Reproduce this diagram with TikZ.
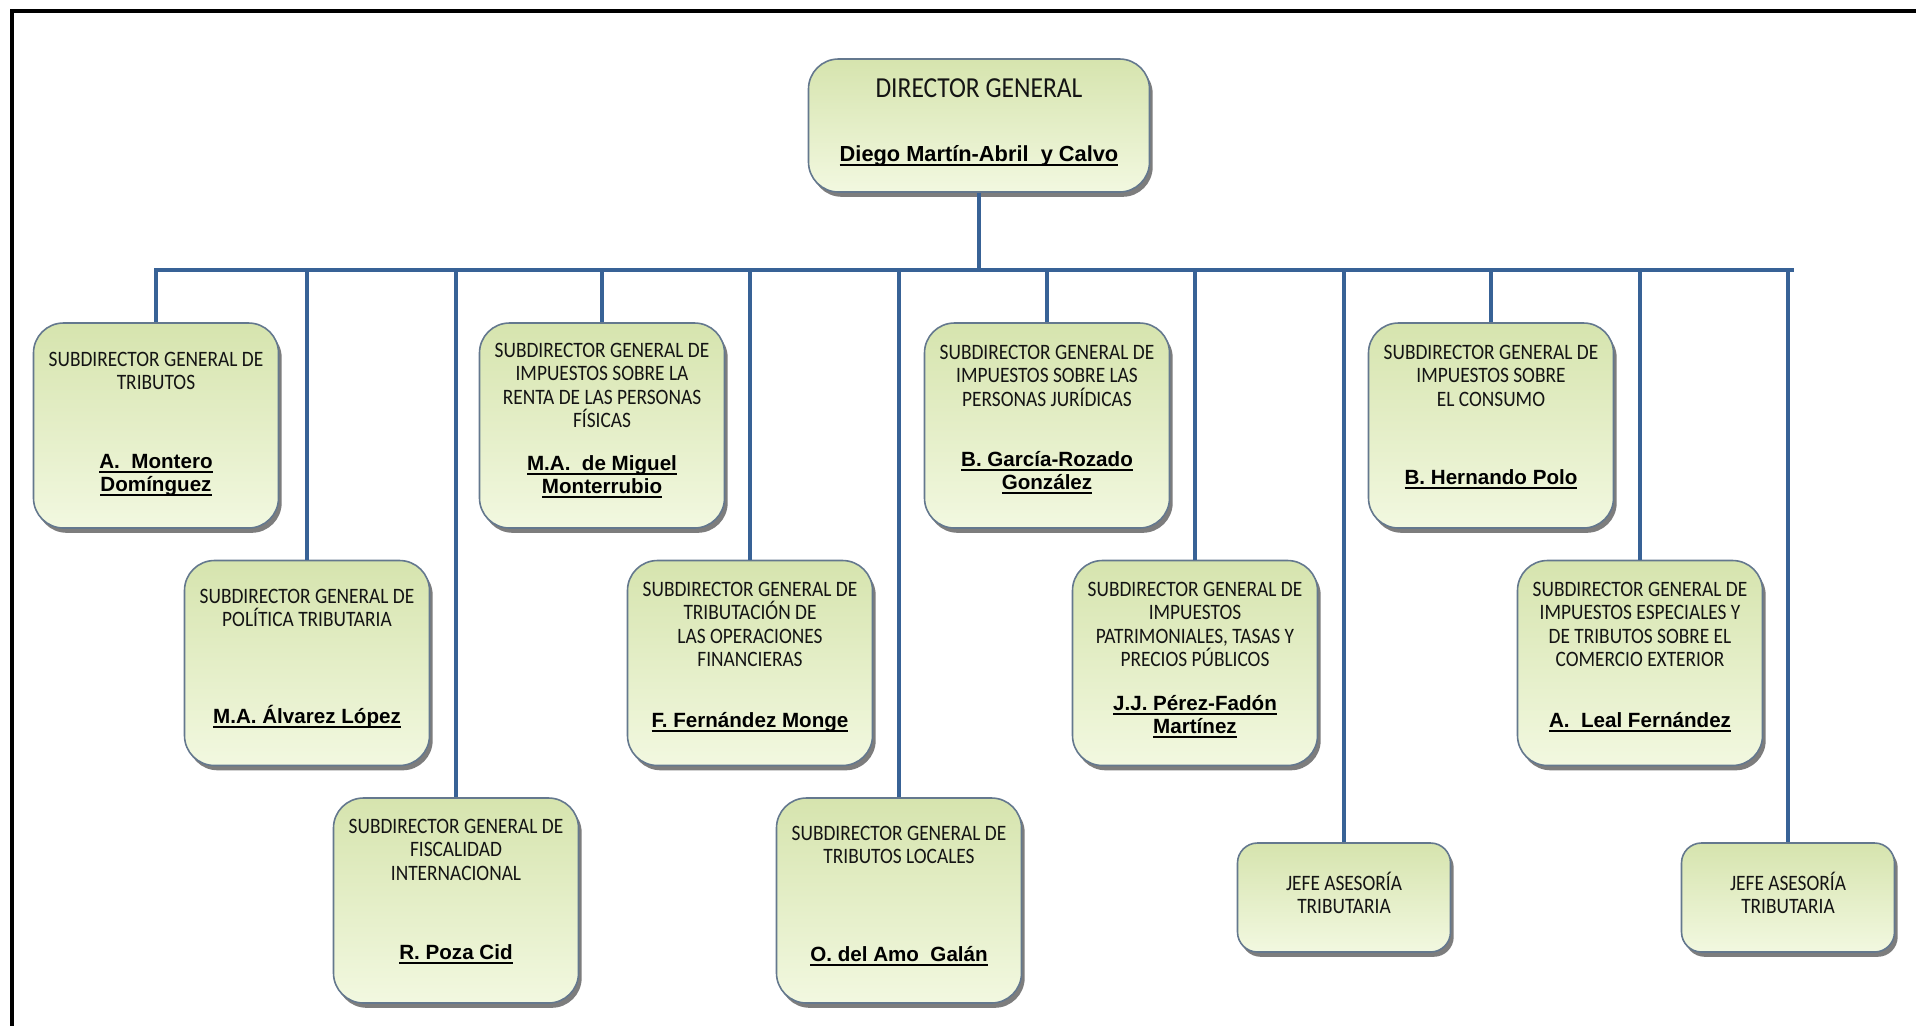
\documentclass[tikz,border=0pt]{standalone}
\usepackage{fontspec}
\setmainfont{Liberation Sans}
\newfontfamily\titlefont[FakeStretch=0.88]{Carlito}
\usetikzlibrary{shadows}

\definecolor{boxtop}{RGB}{214,228,174}
\definecolor{boxbot}{RGB}{242,248,224}
\definecolor{boxedge}{RGB}{100,120,142}
\definecolor{linkblue}{RGB}{56,98,150}
\definecolor{textdark}{RGB}{20,20,20}

% bold name with a heavy underline
\newcommand\ulname[1]{\setbox0=\hbox{#1}\rlap{\raisebox{-2.6pt}{\rule{\wd0}{1pt}}}\box0}

% multi-line text nodes are anchored at the baseline of their last line
\tikzset{
  orgbox/.style={draw=boxedge, line width=0.8pt, rounded corners=15pt,
    top color=boxtop, bottom color=boxbot, inner sep=0pt,
    minimum width=122.5pt, minimum height=102.5pt,
    drop shadow={shadow xshift=1.6pt, shadow yshift=-2.4pt, opacity=0.6, fill=black!85}},
  smallbox/.style={orgbox, rounded corners=10pt, minimum width=106.5pt, minimum height=54.5pt},
  title/.style={font=\titlefont\fontsize{11}{11.75}\selectfont, align=center,
    anchor=base, inner sep=0pt, text=textdark},
  who/.style={font=\bfseries\fontsize{10.3}{11.5}\selectfont, align=center,
    anchor=base, inner sep=0pt, text=black},
  link/.style={draw=linkblue, line width=2pt},
}

\begin{document}
\begin{tikzpicture}[x=0.5pt, y=-0.5pt]
\useasboundingbox (0,0) rectangle (1916,1025);

% page frame
\draw[line width=1.6pt, line cap=rect] (12,1025) -- (12,11) -- (1916,11);

% director
\node[orgbox, minimum width=170.5pt, minimum height=66.5pt] (dg) at (979,125.5) {};
\node[title, font=\titlefont\fontsize{14.5}{16}\selectfont] (dgt) at (979,97) {DIRECTOR GENERAL};
\node[who, font=\bfseries\fontsize{10.9}{12}\selectfont] (dgn) at (979,161) {\ulname{Diego Martín-Abril\ \ y Calvo}};

% first row
\node[orgbox] (trib) at (156,425.5) {};
\node[title] (tribt) at (156,389.5) {SUBDIRECTOR GENERAL DE\\TRIBUTOS};
\node[who] (tribn) at (156,491) {\ulname{A.\ \ Montero}\\\ulname{Domínguez}};

\node[orgbox] (irpf) at (602,425.5) {};
\node[title] (irpft) at (602,427.5) {SUBDIRECTOR GENERAL DE\\IMPUESTOS SOBRE LA\\RENTA DE LAS PERSONAS\\FÍSICAS};
\node[who] (irpfn) at (602,493) {\ulname{M.A.\ \ de Miguel}\\\ulname{Monterrubio}};

\node[orgbox] (soc) at (1047,425.5) {};
\node[title] (soct) at (1047,406) {SUBDIRECTOR GENERAL DE\\IMPUESTOS SOBRE LAS\\PERSONAS JURÍDICAS};
\node[who] (socn) at (1047,489) {\ulname{B. García-Rozado}\\\ulname{González}};

\node[orgbox] (cons) at (1491,425.5) {};
\node[title] (const) at (1491,406) {SUBDIRECTOR GENERAL DE\\IMPUESTOS SOBRE\\EL CONSUMO};
\node[who] (consn) at (1491,484) {\ulname{B. Hernando Polo}};

% second row
\node[orgbox] (pol) at (307,663) {};
\node[title] (polt) at (307,626.5) {SUBDIRECTOR GENERAL DE\\POLÍTICA TRIBUTARIA};
\node[who] (poln) at (307,723) {\ulname{M.A. Álvarez López}};

\node[orgbox] (fin) at (750,663) {};
\node[title] (fint) at (750,666.5) {SUBDIRECTOR GENERAL DE\\TRIBUTACIÓN DE\\LAS OPERACIONES\\FINANCIERAS};
\node[who] (finn) at (750,727) {\ulname{F. Fernández Monge}};

\node[orgbox] (pat) at (1195,663) {};
\node[title] (patt) at (1195,666.5) {SUBDIRECTOR GENERAL DE\\IMPUESTOS\\PATRIMONIALES, TASAS Y\\PRECIOS PÚBLICOS};
\node[who] (patn) at (1195,733) {\ulname{J.J. Pérez-Fadón}\\\ulname{Martínez}};

\node[orgbox] (esp) at (1640,663) {};
\node[title] (espt) at (1640,666.5) {SUBDIRECTOR GENERAL DE\\IMPUESTOS ESPECIALES Y\\DE TRIBUTOS SOBRE EL\\COMERCIO EXTERIOR};
\node[who] (espn) at (1640,727) {\ulname{A.\ \ Leal Fernández}};

% third row
\node[orgbox] (intl) at (456,900.5) {};
\node[title] (intlt) at (456,880) {SUBDIRECTOR GENERAL DE\\FISCALIDAD\\INTERNACIONAL};
\node[who] (intln) at (456,959) {\ulname{R. Poza Cid}};

\node[orgbox] (loc) at (899,900.5) {};
\node[title] (loct) at (899,863.5) {SUBDIRECTOR GENERAL DE\\TRIBUTOS LOCALES};
\node[who] (locn) at (899,961) {\ulname{O. del Amo\ \ Galán}};

\node[smallbox] (jefa) at (1344,897.5) {};
\node[title] (jefat) at (1344,913.5) {JEFE ASESORÍA\\TRIBUTARIA};

\node[smallbox] (jefb) at (1788,897.5) {};
\node[title] (jefbt) at (1788,913.5) {JEFE ASESORÍA\\TRIBUTARIA};

% connectors
\coordinate (busL) at (156,270);
\coordinate (busR) at (1792,270);
\draw[link] (dg.south) -- (dg.south |- busL);
\draw[link, line cap=rect] (busL) -- (busR);
\foreach \b in {trib,pol,intl,irpf,fin,loc,soc,pat,jefa,cons,esp,jefb}
  \draw[link] (\b.north) -- (\b.north |- busL);
\end{tikzpicture}
\end{document}
